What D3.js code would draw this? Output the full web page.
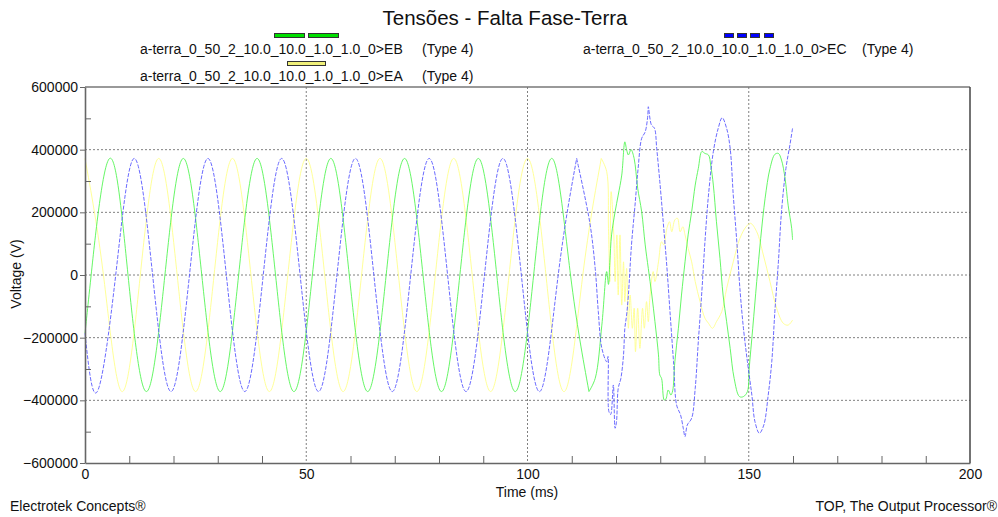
<!DOCTYPE html>
<html>
<head>
<meta charset="utf-8">
<script src="https://cdn.jsdelivr.net/npm/d3@7"></script>
<style>
  body { margin: 0; background: #fff; }
  svg { display: block; font-family: "Liberation Sans", Arial, sans-serif; }
</style>
</head>
<body>
<div id="chart"></div>
<script>
// axis ticks
var yMajor = [-600000, -400000, -200000, 0, 200000, 400000, 600000];
var yMinor = [-500000, -300000, -100000, 100000, 300000, 500000];
var yGrid = [-400000, -200000, 0, 200000, 400000];
var xMajor = [0, 50, 100, 150, 200];
var xMinor = [10, 20, 30, 40, 60, 70, 80, 90, 110, 120, 130, 140, 160, 170, 180, 190];
var xGrid = [50, 100, 150];

// EA (yellow) - [time ms, voltage V]
var eaSteady = [[0,372000],[4.17,0],[8.33,-372000],[12.5,0],[16.67,372000],[20.83,0],[25,-372000],[29.17,0],
  [33.33,372000],[37.5,0],[41.67,-372000],[45.83,0],[50,372000],[54.17,0],[58.33,-372000],[62.5,0],
  [66.67,372000],[70.83,0],[75,-372000],[79.17,0],[83.33,372000],[87.5,0],[91.67,-372000],[95.83,0],
  [100,372000],[104.17,0],[108.33,-372000],[112.5,0],[116.67,372000]];
var eaFault = [[116.67,372000],[117.9,330000],[118.3,149000],[118.6,-21000],[118.9,266000],[119.5,128000],
  [119.8,-21000],[120.2,128000],[120.5,-64000],[120.9,128000],[121.3,-96000],[121.7,42000],[122.0,-85000],
  [122.4,21000],[122.8,-170000],[123.2,-64000],[123.7,-170000],[124.1,-106000],[124.4,-245000],[124.9,-106000],
  [125.4,-234000],[126.0,-106000],[126.4,-170000],[126.9,-85000],[127.3,-149000],[127.7,-64000],[128.4,11000],
  [128.8,-21000],[129.6,42000],[130.3,106000],[130.8,96000],[131.5,149000],[132.1,170000],[132.6,138000],
  [133.3,176000],[133.9,181000],[134.5,138000],[135.1,154000],[135.6,128000],[136.3,85000],[137.1,42000],
  [137.9,-21000],[139.0,-85000],[140.1,-138000],[140.9,-154000],[141.8,-170000],[142.7,-149000],[143.9,-117000],
  [145.0,-43000],[146.5,42000],[148.0,117000],[149.4,154000],[150.4,165000],[151.8,138000],[153.3,64000],
  [154.8,-21000],[156.3,-106000],[157.8,-154000],[158.9,-160000],[159.9,-144000]];

// EB (green)
var ebSteady = [[0,-186000],[1.39,0],[5.56,372000],[9.72,0],[13.89,-372000],[18.06,0],[22.22,372000],[26.39,0],
  [30.56,-372000],[34.72,0],[38.89,372000],[43.06,0],[47.22,-372000],[51.39,0],[55.56,372000],[59.72,0],
  [63.89,-372000],[68.06,0],[72.22,372000],[76.39,0],[80.56,-372000],[84.72,0],[88.89,372000],[93.06,0],
  [97.22,-372000],[101.39,0],[105.56,372000],[109.72,0],[113.89,-372000]];
var ebFault = [[113.89,-372000],[115.3,-330000],[116.8,-160000],[117.9,11000],[118.3,-30000],[118.6,40000],
  [119.0,128000],[119.8,202000],[120.5,255000],[121.3,319000],[122.0,425000],[122.4,400000],[122.8,383000],
  [123.4,400000],[124.1,372000],[124.5,330000],[124.9,277000],[125.8,202000],[126.6,96000],[127.3,21000],
  [128.1,-64000],[128.8,-149000],[129.6,-255000],[129.9,-319000],[130.3,-330000],[130.9,-399000],[131.3,-395000],
  [131.8,-367000],[132.4,-383000],[132.8,-370000],[133.3,-277000],[134.1,-170000],[134.8,-64000],[135.6,42000],
  [136.3,128000],[137.1,202000],[137.9,287000],[138.6,340000],[139.4,394000],[140.1,388000],[140.9,383000],
  [141.4,351000],[142.0,287000],[142.7,170000],[143.5,53000],[144.2,-64000],[145.0,-149000],[145.8,-234000],
  [146.7,-330000],[147.9,-388000],[148.8,-388000],[149.7,-372000],[150.1,-298000],[150.9,-170000],[151.8,-21000],
  [152.7,117000],[153.7,245000],[154.8,340000],[155.9,385000],[156.7,388000],[157.4,367000],[158.2,309000],
  [158.9,223000],[159.7,149000],[159.9,112000]];

// EC (blue)
var ecSteady = [[0,-186000],[2.78,-372000],[6.94,0],[11.11,372000],[15.28,0],[19.44,-372000],[23.61,0],
  [27.78,372000],[31.94,0],[36.11,-372000],[40.28,0],[44.44,372000],[48.61,0],[52.78,-372000],[56.94,0],
  [61.11,372000],[65.28,0],[69.44,-372000],[73.61,0],[77.78,372000],[81.94,0],[86.11,-372000],[90.28,0],
  [94.44,372000],[98.61,0],[102.78,-372000],[106.94,0],[111.11,372000]];
var ecFault = [[111.11,372000],[114.1,165000],[115.3,21000],[116.0,-117000],[116.8,-234000],[117.9,-277000],
  [118.2,-260000],[118.4,-436000],[118.8,-445000],[119.4,-351000],[119.8,-489000],[120.1,-470000],[120.5,-362000],
  [121.1,-330000],[121.7,-255000],[122.0,-170000],[122.4,-128000],[122.8,-64000],[123.5,96000],[124.3,223000],
  [125.0,340000],[125.8,436000],[126.6,457000],[127.2,511000],[127.3,537000],[128.0,479000],[128.7,468000],
  [129.2,404000],[129.9,298000],[130.7,165000],[131.5,25000],[132.2,-117000],[133.0,-277000],[133.7,-415000],
  [134.6,-447000],[135.2,-489000],[135.6,-516000],[136.1,-479000],[137.1,-457000],[137.9,-362000],[138.6,-213000],
  [139.4,-53000],[140.1,106000],[140.9,255000],[142.0,394000],[143.1,468000],[144.0,502000],[145.0,468000],
  [145.8,404000],[146.5,255000],[147.3,106000],[148.0,-43000],[148.8,-170000],[149.7,-277000],[150.7,-383000],
  [151.4,-468000],[152.4,-505000],[153.4,-479000],[154.4,-383000],[155.2,-277000],[155.9,-117000],[156.7,42000],
  [157.4,202000],[158.4,340000],[159.3,415000],[159.9,468000]];

var seriesNames = ["a-terra_0_50_2_10.0_10.0_1.0_1.0_0>EB", "a-terra_0_50_2_10.0_10.0_1.0_1.0_0>EA", "a-terra_0_50_2_10.0_10.0_1.0_1.0_0>EC"];

var width = 998, height = 517;
var plotLeft = 85, plotRight = 970, plotTop = 87, plotBottom = 463;

var svg = d3.select("#chart")
    .append("svg")
    .attr("width", width)
    .attr("height", height);

svg.append("rect").attr("width", width).attr("height", height).attr("fill", "#fff");

var x = d3.scaleLinear().domain([0, 200]).range([plotLeft, plotRight]);
var y = d3.scaleLinear().domain([-600000, 600000]).range([plotBottom, plotTop]);

// grid
svg.append("g").selectAll("line")
    .data(yGrid)
    .enter().append("line")
    .attr("x1", plotLeft).attr("x2", plotRight)
    .attr("y1", d => y(d)).attr("y2", d => y(d))
    .attr("stroke", "#808080").attr("stroke-width", 1).attr("stroke-dasharray", "2,2");

svg.append("g").selectAll("line")
    .data(xGrid)
    .enter().append("line")
    .attr("y1", plotTop).attr("y2", plotBottom)
    .attr("x1", d => x(d)).attr("x2", d => x(d))
    .attr("stroke", "#808080").attr("stroke-width", 1).attr("stroke-dasharray", "2,2");

// frame top/right
svg.append("line").attr("x1", plotLeft).attr("x2", plotRight).attr("y1", plotTop).attr("y2", plotTop)
    .attr("stroke", "#777").attr("stroke-width", 1.5);
svg.append("line").attr("x1", plotRight).attr("x2", plotRight).attr("y1", plotTop).attr("y2", plotBottom)
    .attr("stroke", "#444").attr("stroke-width", 1.5);

// waveforms
var lineSmooth = d3.line().x(d => x(d[0])).y(d => y(d[1])).curve(d3.curveNatural);
var lineFault = d3.line().x(d => x(d[0])).y(d => y(d[1])).curve(d3.curveCatmullRom.alpha(0.5));

function drawSeries(steady, fault, color, dash) {
    [[steady, lineSmooth], [fault, lineFault]].forEach(function(p) {
        svg.append("path")
            .attr("d", p[1](p[0]))
            .attr("fill", "none")
            .attr("stroke", color)
            .attr("stroke-width", 0.9)
            .attr("stroke-dasharray", dash);
    });
}

drawSeries(eaSteady, eaFault, "#ffff8c", null);
drawSeries(ebSteady, ebFault, "#55f555", null);
drawSeries(ecSteady, ecFault, "#5a5aff", "4,1.5");

// axes
var axisFont = "Liberation Sans, Arial, sans-serif";

svg.append("g")
    .attr("transform", "translate(" + plotLeft + ",0)")
    .call(d3.axisLeft(y).tickValues(yMajor).tickSize(5).tickSizeOuter(0).tickPadding(2).tickFormat(d3.format("d")));
svg.append("g")
    .attr("transform", "translate(" + plotLeft + ",0)")
    .call(d3.axisLeft(y).tickValues(yMinor).tickSize(-6).tickSizeOuter(0).tickFormat(""))
    .select(".domain").remove();

svg.append("g")
    .attr("transform", "translate(0," + plotBottom + ")")
    .call(d3.axisBottom(x).tickValues(xMajor).tickSize(0).tickSizeOuter(0).tickPadding(6).tickFormat(d3.format("d")));
svg.append("g")
    .attr("transform", "translate(0," + plotBottom + ")")
    .call(d3.axisBottom(x).tickValues(xMinor).tickSize(-7).tickSizeOuter(0).tickFormat(""))
    .select(".domain").remove();

svg.selectAll(".domain").attr("stroke", "#666").attr("stroke-width", 1.6);
svg.selectAll(".tick line").attr("stroke", "#666");
svg.selectAll(".tick text")
    .attr("font-family", axisFont)
    .attr("font-size", 14)
    .attr("fill", "#111");

// titles
svg.append("text")
    .attr("x", 505).attr("y", 25)
    .attr("text-anchor", "middle")
    .style("font-size", "20.5px")
    .attr("fill", "#111")
    .text("Tensões - Falta Fase-Terra");

svg.append("text")
    .attr("transform", "translate(21,274) rotate(-90)")
    .attr("text-anchor", "middle")
    .style("font-size", "14px")
    .attr("fill", "#111")
    .text("Voltage (V)");

svg.append("text")
    .attr("x", 527).attr("y", 497)
    .attr("text-anchor", "middle")
    .style("font-size", "14px")
    .attr("fill", "#111")
    .text("Time (ms)");

svg.append("text")
    .attr("x", 10).attr("y", 511)
    .style("font-size", "14px")
    .attr("fill", "#111")
    .text("Electrotek Concepts®");

svg.append("text")
    .attr("x", 997).attr("y", 511)
    .attr("text-anchor", "end")
    .style("font-size", "14px")
    .attr("fill", "#111")
    .text("TOP, The Output Processor®");

// legend
var swatches = [
    {x: 274, y: 33, w: 30, c: "#00e000"},
    {x: 308, y: 33, w: 30, c: "#00e000"},
    {x: 287, y: 61, w: 38, c: "#f0f07a"},
    {x: 724, y: 33, w: 9, c: "#0000ff"},
    {x: 737, y: 33, w: 9, c: "#0000ff"},
    {x: 750, y: 33, w: 9, c: "#0000ff"},
    {x: 764, y: 33, w: 9, c: "#0000ff"}
];
svg.append("g").selectAll("rect")
    .data(swatches)
    .enter().append("rect")
    .attr("x", d => d.x + 0.5).attr("y", d => d.y + 0.5)
    .attr("width", d => d.w).attr("height", 4)
    .attr("fill", d => d.c)
    .attr("stroke", "#333").attr("stroke-width", 1);

var legendPos = [[140, 54, 422], [140, 81, 422], [583, 54, 862]];
legendPos.forEach(function(p, i) {
    svg.append("text").attr("x", p[0]).attr("y", p[1])
        .style("font-size", "14px").attr("fill", "#111")
        .text(seriesNames[i]);
    svg.append("text").attr("x", p[2]).attr("y", p[1])
        .style("font-size", "14px").attr("fill", "#111")
        .text("(Type 4)");
});
</script>
</body>
</html>
